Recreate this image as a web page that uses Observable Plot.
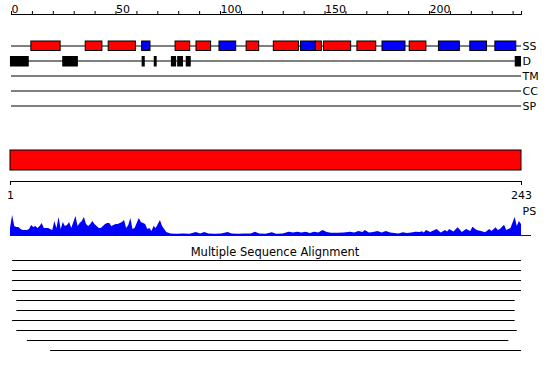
<!DOCTYPE html>
<html><head><meta charset="utf-8">
<script src="https://cdn.jsdelivr.net/npm/d3@7"></script>
<script src="https://cdn.jsdelivr.net/npm/@observablehq/plot@0.6"></script>
<style>
html,body{margin:0;padding:0;background:#fff;}
#chart{width:550px;height:380px;overflow:hidden;}
#chart svg{display:block;}
</style></head><body><div id="chart"></div>
<script>
// ---------- data ----------
const seqLength = 243;
const topEnd = 244;
const topTicks = [0,10,20,30,40,50,60,70,80,90,100,110,120,130,140,150,160,170,180,190,200,210,220,230,240,244];
const topLabels = [0,50,100,150,200];
const trackNames = ["SS","D","TM","CC","SP"];

// secondary structure segments (H = helix, red; E = strand, blue)
const ssStart = [9.5, 35.5, 46.5, 62.5, 78.5, 88.5, 99.5, 112.5, 125.5, 138.5, 145.5, 149.5, 165.5, 177.5, 190.5, 204.5, 219.5, 231.5];
const ssEnd   = [23.5, 43.5, 59.5, 66.5, 85.5, 95.5, 107.5, 118.5, 137.5, 145.5, 148.5, 162.5, 174.5, 188.5, 198.5, 214.5, 227.5, 241.5];
const ssType  = ["H","H","H","E","H","H","E","H","H","E","H","H","H","E","H","E","E","E"];

// disorder segments
const disStart = [-0.5, 24.5, 62.5, 68.3, 76.5, 79.5, 83.6, 241];
const disEnd   = [8.5, 32, 64, 69.7, 79, 82.3, 86, 244];

// PS profile
const psPos = [1,2,3,4,5,6,7,8,9,10,11,12,13,14,15,16,17,18,19,20,21,22,23,24,25,26,27,28,29,30,31,32,33,34,35,36,37,38,39,40,41,42,43,44,45,46,47,48,49,50,51,52,53,54,55,56,57,58,59,60,61,62,63,64,65,66,67,68,69,70,71,72,73,74,75,
  77,80,83,86,89,91,93,95,98,101,104,106,109,112,115,117,119,122,125,127,130,133,135,137,139,141,143,145,147,149,151,153,156,159,162,164,166,168,169,171,173,175,177,179,181,183,185,187,189,191,193,195,196,197,198,200,203,205,207,208,209,211,213,215,217,219,220,222,224,226,228,229,231,232,233,235,236,237,238,240,241,242,243];
const psVal = [7,20,9,8,8,6,5,5,5,6,10,8,9,7,9,12,7,7,7,6,5,14,7,18,6,13,9,10,13,7,13,19,9,12,14,18,11,9,11,14,11,9,7,7,9,11,12,12,9,10,11,11,12,13,15,7,10,17,6,7,12,17,13,12,11,6,7,4,9,7,11,15,9,6,3,
  1.5,1.2,1.5,1.3,3,1.5,3,1.5,1.3,1.5,3,1.5,1.2,1.5,1.5,3.3,1.5,1.3,2.7,1.3,1.5,3.3,2.5,3.3,2.5,3.3,2,3.3,2.5,5,3,2.3,2.3,2.5,3.3,2.5,4,3,5,2.5,3,4,2.5,4,2.5,2,1.5,2.7,2,2.5,3.3,3,3.7,2.5,5,3,6,2.5,5,3.5,6,3.5,7.7,3,6,4,8.3,5,4,2.7,6,4,7.7,5,6,10.3,5,6,7,18,9,14,11];

// multiple sequence alignment coverage
const msaTitle = "Multiple Sequence Alignment";
const msaStart = [2,2,2,2,4,4,2,4,9,20];
const msaEnd   = [243,243,243,243,240,240,240,241,237,243];

// ---------- tables ----------
const ssRows = ssStart.map((s, i) => ({start: s, end: ssEnd[i], type: ssType[i]}));
const disRows = disStart.map((s, i) => ({start: s, end: disEnd[i]}));
const psRows = psPos.map((p, i) => ({pos: p, val: psVal[i]}));
const msaRows = msaStart.map((s, i) => ({row: i + 1, start: s, end: msaEnd[i]}));

const FONT = "DejaVu Sans";
const baseStyle = {fontFamily: FONT, fontSize: "11px", background: "white", color: "black", overflow: "visible"};
const RED = "#ff0000", BLUE = "#0000ff";
const root = document.getElementById("chart");

// ---------- top tracks ----------
root.append(Plot.plot({
  width: 550, height: 118,
  marginLeft: 11, marginRight: 29, marginTop: 14, marginBottom: 0,
  style: baseStyle,
  x: {domain: [0, topEnd], axis: null},
  y: {type: "band", domain: trackNames, range: [37.5, 112.5], padding: 0, axis: null},
  marks: [
    Plot.frame({anchor: "top"}),
    Plot.axisX({anchor: "top", ticks: topTicks, tickSize: 4, tickPadding: -2, textAnchor: "start",
      tickFormat: d => topLabels.includes(d) ? String(d) : "", fontSize: 11}),
    Plot.ruleY(trackNames, {y: d => d, stroke: "black"}),
    Plot.barX(ssRows.filter(d => d.type === "H"), {x1: "start", x2: "end", y: () => "SS", fill: RED, stroke: "black", insetTop: 3, insetBottom: 2.5}),
    Plot.barX(ssRows.filter(d => d.type === "E"), {x1: "start", x2: "end", y: () => "SS", fill: BLUE, stroke: "black", insetTop: 3, insetBottom: 2.5}),
    Plot.barX(disRows, {x1: "start", x2: "end", y: () => "D", fill: "black", insetTop: 3, insetBottom: 1.5}),
    Plot.text(trackNames, {y: d => d, text: d => d, frameAnchor: "right", textAnchor: "start", dx: 1, fontSize: 11})
  ]
}));

// ---------- sequence bar + bottom axis ----------
root.append(Plot.plot({
  width: 550, height: 87,
  marginLeft: 10, marginRight: 29, marginTop: 32, marginBottom: 24,
  style: baseStyle,
  x: {domain: [1, seqLength], axis: null},
  y: {type: "band", domain: ["protein"], range: [32, 52], padding: 0, axis: null},
  marks: [
    Plot.barX([{start: 1, end: seqLength}], {x1: "start", x2: "end", y: () => "protein", fill: RED, stroke: "black"}),
    Plot.frame({anchor: "bottom"}),
    Plot.axisX({anchor: "bottom", ticks: [1, seqLength], tickSize: 4, tickPadding: 6, fontSize: 11})
  ]
}));

// ---------- PS profile ----------
root.append(Plot.plot({
  width: 550, height: 35,
  marginLeft: 10, marginRight: 29, marginTop: 9, marginBottom: 5,
  style: baseStyle,
  x: {domain: [1, seqLength], axis: null},
  y: {domain: [0, 21], axis: null},
  marks: [
    Plot.areaY(psRows, {x: "pos", y: "val", fill: BLUE}),
    Plot.ruleY([0], {stroke: BLUE, insetRight: -10}),
    Plot.text(["PS"], {frameAnchor: "top-right", textAnchor: "start", lineAnchor: "middle", dx: 1, dy: -3, fontSize: 11})
  ]
}));

// ---------- multiple sequence alignment ----------
root.append(Plot.plot({
  width: 550, height: 140,
  marginLeft: 10, marginRight: 29, marginTop: 20, marginBottom: 30,
  style: baseStyle,
  x: {domain: [1, seqLength], axis: null},
  y: {type: "point", domain: msaRows.map(d => d.row), range: [20, 110], padding: 0, axis: null},
  marks: [
    Plot.ruleY(msaRows, {y: "row", x1: "start", x2: "end", stroke: "black"}),
    Plot.text([msaTitle], {frameAnchor: "top", lineAnchor: "bottom", dy: -4.5, dx: 9, fontSize: 11.5})
  ]
}));
</script></body></html>
